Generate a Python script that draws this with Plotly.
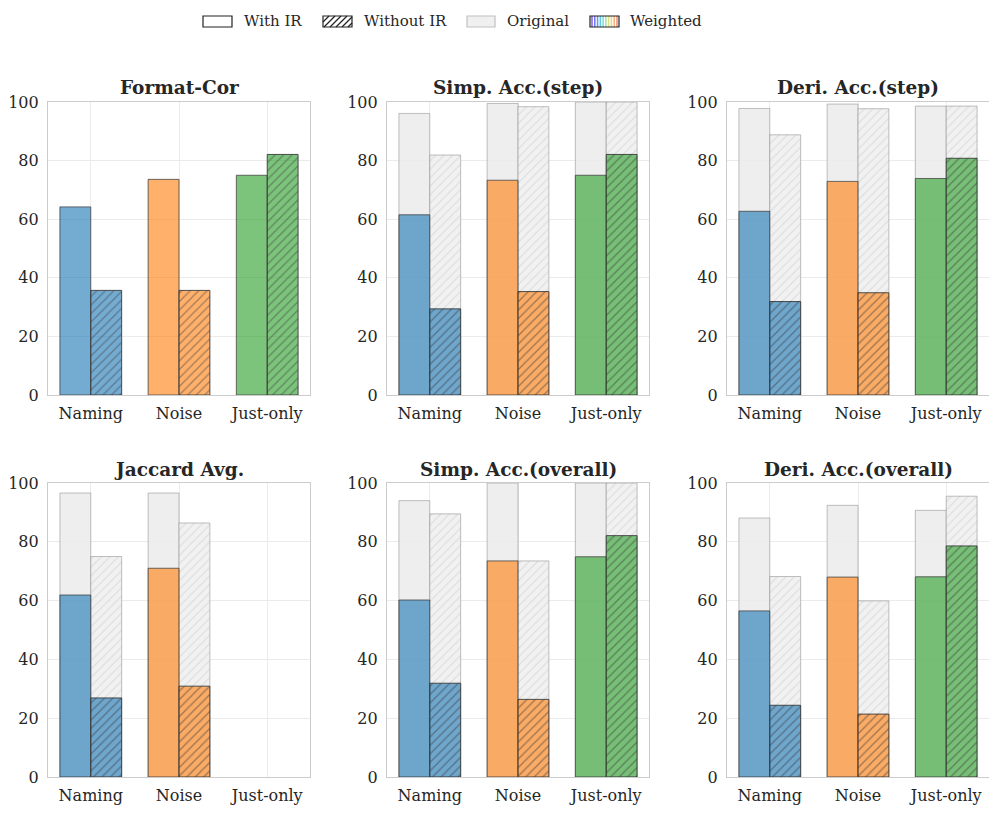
import plotly.graph_objects as go

W, H = 997, 813
OFF = 8  # browser body margin
FW, FH = W - OFF, H - OFF

categories = ["Naming", "Noise", "Just-only"]
metrics = ["Format-Cor", "Simp. Acc.(step)", "Deri. Acc.(step)",
           "Jaccard Avg.", "Simp. Acc.(overall)", "Deri. Acc.(overall)"]
y_ticks = [0, 20, 40, 60, 80, 100]

# Weighted scores (with IR / without IR)
fmt_with = [64.2, 73.6, 75.0]
fmt_without = [35.7, 35.7, 82.1]
simp_step_with = [61.5, 73.3, 75.0]
simp_step_without = [29.4, 35.3, 82.1]
deri_step_with = [62.7, 72.9, 73.9]
deri_step_without = [31.9, 34.9, 80.8]
jacc_with = [61.9, 71.0, None]
jacc_without = [26.9, 30.9, None]
simp_all_with = [60.2, 73.5, 74.9]
simp_all_without = [31.9, 26.4, 82.1]
deri_all_with = [56.5, 68.0, 68.1]
deri_all_without = [24.4, 21.4, 78.6]

# Original scores (with IR / without IR)
fmt_orig_with = [None, None, None]
fmt_orig_without = [None, None, None]
simp_step_orig_with = [96.1, 99.5, 100.0]
simp_step_orig_without = [81.9, 98.4, 100.0]
deri_step_orig_with = [97.8, 99.3, 98.6]
deri_step_orig_without = [88.8, 97.7, 98.6]
jacc_orig_with = [96.6, 96.6, None]
jacc_orig_without = [75.0, 86.4, None]
simp_all_orig_with = [94.0, 100.0, 100.0]
simp_all_orig_without = [89.5, 73.5, 100.0]
deri_all_orig_with = [88.1, 92.4, 90.7]
deri_all_orig_without = [68.2, 59.9, 95.5]

weighted_with = [fmt_with, simp_step_with, deri_step_with, jacc_with, simp_all_with, deri_all_with]
weighted_without = [fmt_without, simp_step_without, deri_step_without, jacc_without, simp_all_without, deri_all_without]
orig_with = [fmt_orig_with, simp_step_orig_with, deri_step_orig_with, jacc_orig_with, simp_all_orig_with, deri_all_orig_with]
orig_without = [fmt_orig_without, simp_step_orig_without, deri_step_orig_without, jacc_orig_without, simp_all_orig_without, deri_all_orig_without]

cat_colors = ["rgba(31,119,180,0.62)", "rgba(255,127,14,0.62)", "rgba(44,160,44,0.62)"]
FONT = "DejaVu Serif"
TXT = "#262626"

# subplot pixel boxes in screen coordinates
col_x = [(48, 310), (387, 649), (727, 989)]
row_y = [(102, 395), (483, 777)]

def px(x):
    return (x - OFF) / FW

def py(y):
    return 1 - (y - OFF) / FH

fig = go.Figure()
xs = list(range(len(categories)))
BW = 0.35

for i, m in enumerate(metrics):
    r, c = divmod(i, 3)
    idx = i + 1
    xa = "x" if idx == 1 else f"x{idx}"
    ya = "y" if idx == 1 else f"y{idx}"
    fig.add_trace(go.Bar(x=xs, y=orig_with[i], offset=-BW, width=BW, xaxis=xa, yaxis=ya,
                         marker=dict(color="rgba(235,235,235,0.85)",
                                     line=dict(color="rgba(150,150,150,0.6)", width=1)),
                         showlegend=False, hoverinfo="skip"))
    fig.add_trace(go.Bar(x=xs, y=orig_without[i], offset=0, width=BW, xaxis=xa, yaxis=ya,
                         marker=dict(color="rgba(240,240,240,0.9)",
                                     line=dict(color="rgba(150,150,150,0.6)", width=1),
                                     pattern=dict(shape="/", fgcolor="#c4c4c4", size=6,
                                                  solidity=0.18, fillmode="overlay")),
                         showlegend=False, hoverinfo="skip"))
    fig.add_trace(go.Bar(x=xs, y=weighted_with[i], offset=-BW, width=BW, xaxis=xa, yaxis=ya,
                         marker=dict(color=cat_colors,
                                     line=dict(color="rgba(60,60,60,0.75)", width=1)),
                         showlegend=False))
    fig.add_trace(go.Bar(x=xs, y=weighted_without[i], offset=0, width=BW, xaxis=xa, yaxis=ya,
                         marker=dict(color=cat_colors,
                                     line=dict(color="rgba(50,50,50,0.85)", width=1),
                                     pattern=dict(shape="/", fgcolor="#333333", size=6,
                                                  solidity=0.2, fillmode="overlay")),
                         showlegend=False))
    x0, x1 = col_x[c]
    yt, yb = row_y[r]
    axcommon = dict(showline=True, mirror=True, linecolor="#cccccc", linewidth=1.25,
                    showgrid=True, gridcolor="#ebebeb", gridwidth=1, zeroline=False,
                    tickfont=dict(family=FONT, size=16, color=TXT),
                    ticks="outside", tickcolor="rgba(0,0,0,0)", automargin=False)
    fig.layout[f"xaxis{'' if idx == 1 else idx}"] = dict(
        domain=[px(x0), px(x1)], anchor=ya, range=[-0.485, 2.485],
        tickmode="array", tickvals=xs, ticktext=categories, ticklen=4, **axcommon)
    fig.layout[f"yaxis{'' if idx == 1 else idx}"] = dict(
        domain=[py(yb), py(yt)], anchor=xa, range=[0, 100],
        tickmode="array", tickvals=y_ticks, ticklen=5, **axcommon)
    fig.add_annotation(x=px((x0 + x1) / 2), y=py(yt - 14), xref="paper", yref="paper",
                       text=f"<b>{m}</b>", showarrow=False, xanchor="center", yanchor="middle",
                       font=dict(family=FONT, size=18.5, color=TXT))

# manual legend
shapes = []
ly0, ly1 = 16, 27
boxes = [(203, 232), (323, 352), (467, 495), (590, 619)]
labels = [("With IR", 242), ("Without IR", 362), ("Original", 505), ("Weighted", 628)]

def rect(x0, x1, fill, line, lw=1.2):
    return dict(type="rect", xref="paper", yref="paper", x0=px(x0), x1=px(x1),
                y0=py(ly1), y1=py(ly0), fillcolor=fill, line=dict(color=line, width=lw))

shapes.append(rect(*boxes[0], "white", "#222"))
shapes.append(rect(*boxes[1], "white", "#222"))
bx0, bx1 = boxes[1]
hgt = ly1 - ly0
step = 6
s = bx0 - hgt
while s < bx1:
    xa_ = s
    xb_ = s + hgt
    ya_, yb_ = ly1, ly0
    if xa_ < bx0:
        ya_ = ly1 - (bx0 - xa_)
        xa_ = bx0
    if xb_ > bx1:
        yb_ = ly0 + (xb_ - bx1)
        xb_ = bx1
    if xb_ > xa_:
        shapes.append(dict(type="line", xref="paper", yref="paper", x0=px(xa_), y0=py(ya_),
                           x1=px(xb_), y1=py(yb_), line=dict(color="#222", width=1.2)))
    s += step
shapes.append(rect(*boxes[2], "#f0f0f0", "#c0c0c0"))
rb0, rb1 = boxes[3]
rainbow = ["#8a5cf6", "#6b7cf0", "#5aa0ee", "#5ec8e8", "#7fdccc", "#a6e3a1",
           "#d6e38a", "#f3d27a", "#f6b07a", "#f08a7a"]
n = len(rainbow)
for k, col in enumerate(rainbow):
    xx = rb0 + 2 + k * (rb1 - rb0 - 4) / (n - 1)
    shapes.append(dict(type="line", xref="paper", yref="paper", x0=px(xx), x1=px(xx),
                       y0=py(ly1), y1=py(ly0), line=dict(color=col, width=1.5)))
shapes.append(rect(rb0, rb1, "rgba(0,0,0,0)", "#222"))
for (t, xt) in labels:
    fig.add_annotation(x=px(xt), y=py((ly0 + ly1) / 2), xref="paper", yref="paper",
                       text=t, showarrow=False, xanchor="left", yanchor="middle",
                       font=dict(family=FONT, size=15, color=TXT))

fig.update_layout(width=FW, height=FH, margin=dict(l=0, r=0, t=0, b=0),
                  paper_bgcolor="white", plot_bgcolor="white", barmode="overlay",
                  shapes=shapes, showlegend=False,
                  font=dict(family=FONT, color=TXT))

fig.write_html("out.html")
